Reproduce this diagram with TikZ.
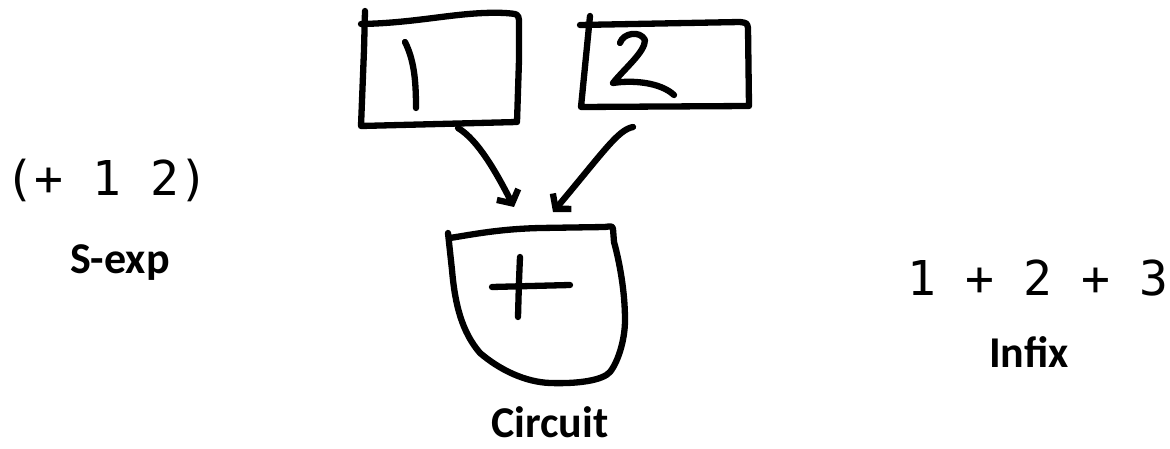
\documentclass[tikz,border=0pt]{standalone}
\usepackage{fontspec}
\usetikzlibrary{arrows.meta}
\newfontfamily\codefnt{DejaVu Sans Mono}
\newfontfamily\labfnt{Carlito}
\tikzset{
  hand/.style={line width=6.3pt, line cap=round, line join=round},
  conn/.style={hand, -{Straight Barb[length=10pt,width=24pt]}},
  codetext/.style={font=\codefnt\fontsize{48pt}{50pt}\selectfont, inner sep=0pt, anchor=base},
  captext/.style={font=\labfnt\bfseries\fontsize{44pt}{48pt}\selectfont, inner sep=0pt, anchor=base, text depth=0pt},
}
\begin{document}
\begin{tikzpicture}[x=1pt,y=-1pt]
\useasboundingbox (0,0) rectangle (1170,449);

% box 1
\draw[hand] (365,11) -- (364,50) -- (361,126) -- (517,122) -- (519,60) -- (519,20)
  .. controls (518,14) .. (505,13) .. controls (460,11) and (420,23) .. (361,24);
\draw[hand] (405,42) .. controls (414,60) and (416,80) .. (416,108);
\coordinate (b1out) at (458,128);

% box 2
\draw[hand] (590,16) -- (581,107) -- (749,106) -- (748,28)
  .. controls (747,23) .. (740,22) -- (580,25);
\draw[hand] (620,43) .. controls (623,33) and (640,30) .. (645,40)
  .. controls (645,52) and (625,68) .. (613,83)
  .. controls (632,80) and (660,82) .. (674,95);
\coordinate (b2out) at (633,127);

% bottom box (circuit)
\draw[hand] (448,233) -- (452,270) .. controls (455,305) and (462,332) .. (480,353)
  .. controls (500,370) and (525,382) .. (550,383)
  .. controls (580,384) and (603,380) .. (610,372)
  .. controls (618,362) and (625,340) .. (625,320)
  .. controls (625,290) and (619,260) .. (614,242) -- (613,229)
  .. controls (612,226) .. (605,227) -- (540,228) .. controls (500,229) and (475,234) .. (450,238);
\draw[hand] (492,287) -- (570,285);
\draw[hand] (520,257) .. controls (519,280) .. (518,317);
\coordinate (cin1) at (514,207);
\coordinate (cin2) at (553,212);

% connectors
\draw[conn] (b1out) .. controls (478,140) and (496,172) .. (cin1);
\draw[conn] (b2out) .. controls (618,130) and (605,150) .. (cin2);

% texts
\node[codetext] (sexp) at (107,196) {(+ 1 2)};
\node[captext] (sexplab) at (120,273) {S-exp};
\node[codetext] (infix) at (1038,295) {1 + 2 + 3};
\node[captext] (infixlab) at (1029,367) {Infix};
\node[captext] (circlab) at (550,437) {Circuit};
\end{tikzpicture}
\end{document}
